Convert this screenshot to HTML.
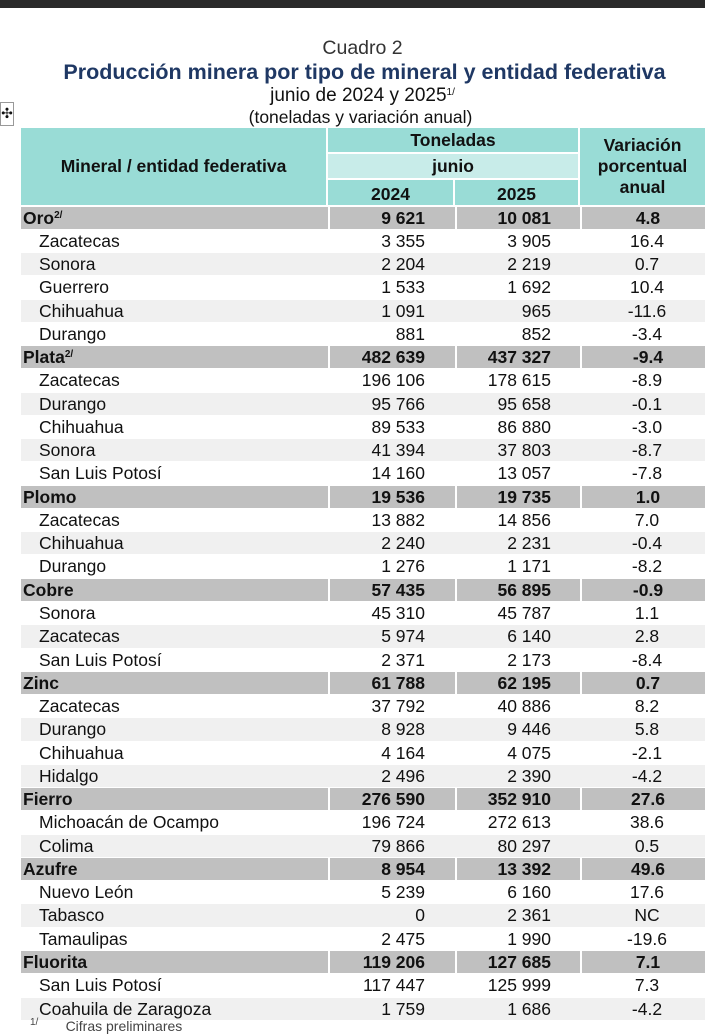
<!DOCTYPE html>
<html><head><meta charset="utf-8">
<style>
*{margin:0;padding:0;box-sizing:border-box}
body{width:705px;height:1024px;overflow:hidden;background:#fff;font-family:"Liberation Sans",Arial,sans-serif;color:#111;position:relative}
.topbar{position:absolute;left:0;top:0;width:705px;height:8px;background:#2a2a2a}
.t{position:absolute;left:0;width:705px;text-align:center;white-space:nowrap}
.hd{position:absolute;background:#99dcd6;font-weight:bold;font-size:17.5px;display:flex;align-items:center;justify-content:center;text-align:center;line-height:21px}
#rows{position:absolute;left:21px;top:205.5px;width:684px}
.r{display:flex;height:23.28px;font-size:17.5px;line-height:23.28px;border-top:1px solid #fff}
.r div{white-space:nowrap}
.r .a{width:307px;padding-left:18px}
.r .b{width:127px;text-align:right;padding-right:30px}
.r .c{width:125px;text-align:right;padding-right:29px}
.r .d{width:125px;text-align:center;padding-left:9px}
.g{background:#c0c0c0;font-weight:bold}
.g .a{padding-left:2px}
.g .b,.g .c{border-left:2px solid #fff}
.g .d{border-left:2px solid #fff}
.s{background:#f0f0f0}
sup{font-size:10px;vertical-align:6px;line-height:0}
</style></head><body>
<div class="topbar"></div>
<div class="t" style="top:37px;font-size:19.5px;color:#333;left:10px">Cuadro 2</div>
<div class="t" style="top:60px;font-size:21.5px;font-weight:bold;color:#1f3864;left:12px">Producción minera por tipo de mineral y entidad federativa</div>
<div class="t" style="top:85px;font-size:19px;left:10px">junio de 2024 y 2025<sup>1/</sup></div>
<div class="t" style="top:107px;font-size:17.5px;left:8px">(toneladas y variación anual)</div>
<div style="position:absolute;left:0;top:102px;width:14px;height:24px;border:1px solid #999;font-size:14px;line-height:20px;text-align:center">✣</div>
<div class="hd" style="left:21px;top:128px;width:305px;height:77px">Mineral / entidad federativa</div>
<div class="hd" style="left:328px;top:128px;width:250px;height:24px">Toneladas</div>
<div class="hd" style="left:328px;top:154px;width:250px;height:24px;background:#c8ece9">junio</div>
<div class="hd" style="left:328px;top:180px;width:125px;height:25px;padding-top:4px">2024</div>
<div class="hd" style="left:455px;top:180px;width:123px;height:25px;padding-top:4px">2025</div>
<div class="hd" style="left:580px;top:128px;width:125px;height:77px">Variación<br>porcentual<br>anual</div>
<div id="rows">
<div class="r g"><div class="a">Oro<sup>2/</sup></div><div class="b">9 621</div><div class="c">10 081</div><div class="d">4.8</div></div>
<div class="r"><div class="a">Zacatecas</div><div class="b">3 355</div><div class="c">3 905</div><div class="d">16.4</div></div>
<div class="r s"><div class="a">Sonora</div><div class="b">2 204</div><div class="c">2 219</div><div class="d">0.7</div></div>
<div class="r"><div class="a">Guerrero</div><div class="b">1 533</div><div class="c">1 692</div><div class="d">10.4</div></div>
<div class="r s"><div class="a">Chihuahua</div><div class="b">1 091</div><div class="c">965</div><div class="d">-11.6</div></div>
<div class="r"><div class="a">Durango</div><div class="b">881</div><div class="c">852</div><div class="d">-3.4</div></div>
<div class="r g"><div class="a">Plata<sup>2/</sup></div><div class="b">482 639</div><div class="c">437 327</div><div class="d">-9.4</div></div>
<div class="r"><div class="a">Zacatecas</div><div class="b">196 106</div><div class="c">178 615</div><div class="d">-8.9</div></div>
<div class="r s"><div class="a">Durango</div><div class="b">95 766</div><div class="c">95 658</div><div class="d">-0.1</div></div>
<div class="r"><div class="a">Chihuahua</div><div class="b">89 533</div><div class="c">86 880</div><div class="d">-3.0</div></div>
<div class="r s"><div class="a">Sonora</div><div class="b">41 394</div><div class="c">37 803</div><div class="d">-8.7</div></div>
<div class="r"><div class="a">San Luis Potosí</div><div class="b">14 160</div><div class="c">13 057</div><div class="d">-7.8</div></div>
<div class="r g"><div class="a">Plomo</div><div class="b">19 536</div><div class="c">19 735</div><div class="d">1.0</div></div>
<div class="r"><div class="a">Zacatecas</div><div class="b">13 882</div><div class="c">14 856</div><div class="d">7.0</div></div>
<div class="r s"><div class="a">Chihuahua</div><div class="b">2 240</div><div class="c">2 231</div><div class="d">-0.4</div></div>
<div class="r"><div class="a">Durango</div><div class="b">1 276</div><div class="c">1 171</div><div class="d">-8.2</div></div>
<div class="r g"><div class="a">Cobre</div><div class="b">57 435</div><div class="c">56 895</div><div class="d">-0.9</div></div>
<div class="r"><div class="a">Sonora</div><div class="b">45 310</div><div class="c">45 787</div><div class="d">1.1</div></div>
<div class="r s"><div class="a">Zacatecas</div><div class="b">5 974</div><div class="c">6 140</div><div class="d">2.8</div></div>
<div class="r"><div class="a">San Luis Potosí</div><div class="b">2 371</div><div class="c">2 173</div><div class="d">-8.4</div></div>
<div class="r g"><div class="a">Zinc</div><div class="b">61 788</div><div class="c">62 195</div><div class="d">0.7</div></div>
<div class="r"><div class="a">Zacatecas</div><div class="b">37 792</div><div class="c">40 886</div><div class="d">8.2</div></div>
<div class="r s"><div class="a">Durango</div><div class="b">8 928</div><div class="c">9 446</div><div class="d">5.8</div></div>
<div class="r"><div class="a">Chihuahua</div><div class="b">4 164</div><div class="c">4 075</div><div class="d">-2.1</div></div>
<div class="r s"><div class="a">Hidalgo</div><div class="b">2 496</div><div class="c">2 390</div><div class="d">-4.2</div></div>
<div class="r g"><div class="a">Fierro</div><div class="b">276 590</div><div class="c">352 910</div><div class="d">27.6</div></div>
<div class="r"><div class="a">Michoacán de Ocampo</div><div class="b">196 724</div><div class="c">272 613</div><div class="d">38.6</div></div>
<div class="r s"><div class="a">Colima</div><div class="b">79 866</div><div class="c">80 297</div><div class="d">0.5</div></div>
<div class="r g"><div class="a">Azufre</div><div class="b">8 954</div><div class="c">13 392</div><div class="d">49.6</div></div>
<div class="r"><div class="a">Nuevo León</div><div class="b">5 239</div><div class="c">6 160</div><div class="d">17.6</div></div>
<div class="r s"><div class="a">Tabasco</div><div class="b">0</div><div class="c">2 361</div><div class="d">NC</div></div>
<div class="r"><div class="a">Tamaulipas</div><div class="b">2 475</div><div class="c">1 990</div><div class="d">-19.6</div></div>
<div class="r g"><div class="a">Fluorita</div><div class="b">119 206</div><div class="c">127 685</div><div class="d">7.1</div></div>
<div class="r"><div class="a">San Luis Potosí</div><div class="b">117 447</div><div class="c">125 999</div><div class="d">7.3</div></div>
<div class="r s"><div class="a">Coahuila de Zaragoza</div><div class="b">1 759</div><div class="c">1 686</div><div class="d">-4.2</div></div>
</div>
<div style="position:absolute;left:30px;top:1018px;font-size:14px;color:#444;white-space:nowrap"><sup>1/</sup>&nbsp;&nbsp;&nbsp;&nbsp;&nbsp;&nbsp;&nbsp;Cifras preliminares</div>
</body></html>
